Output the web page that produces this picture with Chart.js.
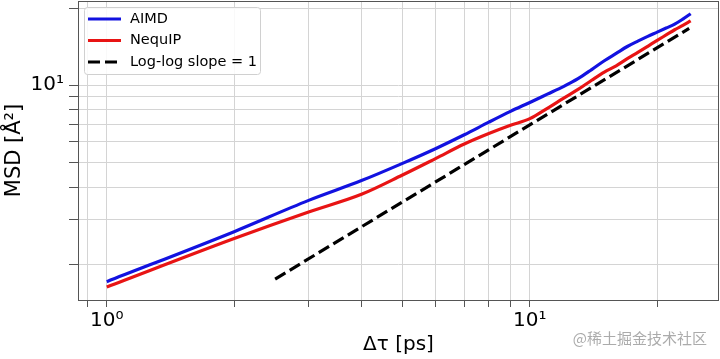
<!DOCTYPE html>
<html><head><meta charset="utf-8">
<script src="https://cdn.jsdelivr.net/npm/chart.js@4/dist/chart.umd.min.js"></script>
<style>html,body{margin:0;padding:0;background:#fff}#wrap{width:720px;height:359px}</style>
</head><body><div id="wrap"><canvas id="c" width="720" height="359"></canvas></div>
<script>
// ---- data ----
const tau = [1,2,3,4,5,6,7,8,9,10,11,12,13,14,15,16,17,18,19,20,21,22,23,24];
const aimd = [1.71,2.68,3.55,4.24,4.95,5.66,6.40,7.17,7.90,8.56,9.22,9.87,10.6,11.5,12.45,13.3,14.15,14.85,15.5,16.1,16.7,17.3,18.1,19.0];
const nequip = [1.63,2.52,3.20,3.75,4.46,5.18,5.89,6.47,6.97,7.40,8.12,8.88,9.62,10.45,11.25,11.9,12.68,13.42,14.18,14.95,15.7,16.45,17.1,17.8];
const slopeTau = [2.5, 23.8];
const slopeMsd = [1.75, 16.65];
const seriesLabels = ['AIMD', 'NequIP', 'Log-log slope = 1'];
const xTicks = [0.9,1,2,3,4,5,6,7,8,9,10,20];
const yTicks = [2,3,4,5,6,7,8,9,10,20];
const xTickLabels = {1: '10\u2070', 10: '10\u00B9'};
const yTickLabels = {10: '10\u00B9'};
const xTitle = '\u0394\u03C4 [ps]';
const yTitle = 'MSD [\u00C5\u00B2]';
const watermark = '@稀土掘金技术社区';

const FONT = 'DejaVu Sans';
const BLUE = '#1212e0', RED = '#e81414';

const pts = (xs, ys) => xs.map((x, i) => ({x, y: ys[i]}));

const framePlugin = {
  id: 'frame',
  afterDatasetsDraw(chart) {
    const {ctx, chartArea: a} = chart;
    ctx.save();
    ctx.strokeStyle = '#555';
    ctx.lineWidth = 1;
    ctx.strokeRect(a.left + 0.5, a.top + 0.5, a.right - a.left - 1, a.bottom - a.top);
    ctx.restore();
  }
};

const legendPlugin = {
  id: 'inlegend',
  afterDraw(chart) {
    const {ctx, chartArea: a} = chart;
    const ds = chart.data.datasets;
    const bx = a.left + 6, by = a.top + 6, bw = 176, bh = 67;
    ctx.save();
    ctx.fillStyle = 'rgba(255,255,255,0.85)';
    ctx.strokeStyle = '#d0d0d0';
    ctx.lineWidth = 1;
    ctx.beginPath();
    ctx.roundRect(bx + 0.5, by + 0.5, bw, bh, 3);
    ctx.fill(); ctx.stroke();
    ctx.font = '14.5px "' + FONT + '"';
    ctx.textBaseline = 'middle';
    ctx.fillStyle = '#000';
    ds.forEach((d, i) => {
      const y = by + 12 + i * 21.5;
      ctx.strokeStyle = d.borderColor;
      ctx.lineWidth = d.borderWidth;
      ctx.setLineDash(d.borderDash || []);
      ctx.beginPath();
      ctx.moveTo(bx + 4, y); ctx.lineTo(bx + 37, y);
      ctx.stroke();
      ctx.setLineDash([]);
      ctx.fillText(d.label, bx + 46, y);
    });
    ctx.restore();
  }
};

const markPlugin = {
  id: 'mark',
  afterDraw(chart) {
    const {ctx, width, height} = chart;
    ctx.save();
    ctx.font = '15px "Noto Sans CJK SC"';
    ctx.fillStyle = 'rgba(150,150,150,0.8)';
    ctx.textAlign = 'right';
    ctx.textBaseline = 'middle';
    ctx.fillText(watermark, width - 13, height - 21);
    ctx.restore();
  }
};

new Chart(document.getElementById('c'), {
  type: 'line',
  data: {
    datasets: [
      {label: seriesLabels[0], data: pts(tau, aimd), borderColor: BLUE, borderWidth: 3.2, pointRadius: 0, cubicInterpolationMode: 'monotone'},
      {label: seriesLabels[1], data: pts(tau, nequip), borderColor: RED, borderWidth: 3.2, pointRadius: 0, cubicInterpolationMode: 'monotone'},
      {label: seriesLabels[2], data: pts(slopeTau, slopeMsd), borderColor: '#000', borderWidth: 3.2, borderDash: [12, 5], pointRadius: 0}
    ]
  },
  options: {
    responsive: false,
    animation: false,
    devicePixelRatio: 1,
    layout: {padding: {top: 1, right: 1, left: 0, bottom: 0}},
    plugins: {legend: {display: false}, tooltip: {enabled: false}},
    scales: {
      x: {
        type: 'logarithmic', min: 0.855, max: 28,
        afterBuildTicks: s => { s.ticks = xTicks.map(v => ({value: v})); },
        afterFit: s => { s.height = 59; s.paddingLeft = 0; s.paddingRight = 0; },
        ticks: {autoSkip: false, maxRotation: 0, padding: 2, color: '#000',
          font: {family: FONT, size: 20},
          callback: v => xTickLabels[v] ?? ''},
        grid: {color: '#d4d4d4', lineWidth: 1, tickColor: '#555', tickLength: 7},
        border: {display: false},
        title: {display: true, text: xTitle, color: '#000', font: {family: FONT, size: 20}, padding: {top: 0, bottom: 2}}
      },
      y: {
        type: 'logarithmic', min: 1.45, max: 21.3,
        afterBuildTicks: s => { s.ticks = yTicks.map(v => ({value: v})); },
        afterFit: s => { s.width = 78; s.paddingTop = 0; s.paddingBottom = 0; },
        ticks: {autoSkip: false, padding: 5, color: '#000',
          font: {family: FONT, size: 20},
          callback: v => yTickLabels[v] ?? ''},
        grid: {color: '#d4d4d4', lineWidth: 1, tickColor: '#555', tickLength: 9},
        border: {display: false},
        title: {display: true, text: yTitle, color: '#000', font: {family: FONT, size: 21}, padding: {top: 2, bottom: 0}}
      }
    }
  },
  plugins: [framePlugin, legendPlugin, markPlugin]
});
</script></body></html>
